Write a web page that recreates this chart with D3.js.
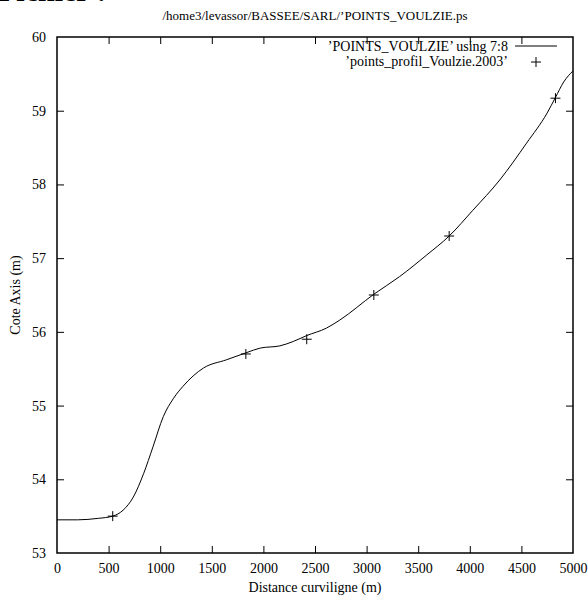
<!DOCTYPE html>
<html>
<head>
<meta charset="utf-8">
<script src="https://cdn.jsdelivr.net/npm/d3@7"></script>
<style>
  html, body { margin: 0; padding: 0; background: #fff; }
  svg { display: block; }
  text { font-family: "Liberation Serif", "DejaVu Serif", serif; fill: #000; }
</style>
</head>
<body>
<script>
// ---- data ----
const curveX = [0, 200, 400, 540, 640, 740, 840, 930, 1030, 1130, 1220, 1420, 1640, 1840, 1970, 2160, 2290, 2420, 2610, 2740, 3070, 3320, 3580, 3800, 4030, 4290, 4550, 4750, 4830, 4910, 5000];
const curveY = [53.45, 53.45, 53.47, 53.5, 53.58, 53.76, 54.08, 54.44, 54.85, 55.1, 55.26, 55.51, 55.62, 55.72, 55.78, 55.81, 55.87, 55.95, 56.05, 56.16, 56.51, 56.75, 57.04, 57.30, 57.65, 58.06, 58.56, 58.97, 59.18, 59.39, 59.54];
const pointsX = [540, 1830, 2420, 3070, 3800, 4830];
const pointsY = [53.5, 55.7, 55.9, 56.5, 57.3, 59.17];
const xTicks = [0, 500, 1000, 1500, 2000, 2500, 3000, 3500, 4000, 4500, 5000];
const yTicks = [53, 54, 55, 56, 57, 58, 59, 60];
const titleText = "/home3/levassor/BASSEE/SARL/\u2019POINTS_VOULZIE.ps";
const xLabel = "Distance curviligne (m)";
const yLabel = "Cote Axis (m)";
const legendLine = "\u2019POINTS_VOULZIE\u2019 using 7:8";
const legendPoints = "\u2019points_profil_Voulzie.2003\u2019";
const headerText = "Fichier :";

// ---- layout ----
const W = 588, H = 596;
const pL = 57, pR = 573, pT = 37, pB = 553;

const svg = d3.select("body").append("svg").attr("width", W).attr("height", H);

const x = d3.scaleLinear().domain([0, 5000]).range([pL, pR]);
const y = d3.scaleLinear().domain([53, 60]).range([pB, pT]);

// clipped header text at the very top (only its bottom edge shows)
svg.append("text").attr("x", -2).attr("y", 1)
  .style("font-size", "30px").style("font-weight", "bold")
  .text(headerText);

// title
svg.append("text").attr("x", (pL + pR) / 2).attr("y", 20)
  .attr("text-anchor", "middle").style("font-size", "13px").text(titleText);

const tickLen = 7;
const gx = svg.append("g").attr("transform", `translate(0,${pB})`)
  .call(d3.axisBottom(x).tickValues(xTicks).tickSize(-tickLen).tickPadding(10).tickFormat(d3.format("d")));
const gxt = svg.append("g").attr("transform", `translate(0,${pT})`)
  .call(d3.axisTop(x).tickValues(xTicks).tickSize(-tickLen).tickFormat(""));
const gy = svg.append("g").attr("transform", `translate(${pL},0)`)
  .call(d3.axisLeft(y).tickValues(yTicks).tickSize(-tickLen).tickPadding(11).tickFormat(d3.format("d")));
const gyr = svg.append("g").attr("transform", `translate(${pR},0)`)
  .call(d3.axisRight(y).tickValues(yTicks).tickSize(-tickLen).tickFormat(""));

[gx, gxt, gy, gyr].forEach(g => {
  g.select(".domain").remove();
  g.selectAll(".tick line").attr("stroke", "#000").attr("stroke-width", 1);
  g.selectAll(".tick text").style("font-size", "14px")
    .style("font-family", "'Liberation Serif', serif").attr("fill", "#000");
});
gx.selectAll(".tick").filter(d => d === 0 || d === 5000).select("line").remove();
gxt.selectAll(".tick").filter(d => d === 0 || d === 5000).select("line").remove();
gy.selectAll(".tick").filter(d => d === 53 || d === 60).select("line").remove();
gyr.selectAll(".tick").filter(d => d === 53 || d === 60).select("line").remove();

// border
svg.append("rect").attr("x", pL).attr("y", pT)
  .attr("width", pR - pL).attr("height", pB - pT)
  .attr("fill", "none").attr("stroke", "#000").attr("stroke-width", 1.5);

// axis labels
svg.append("text").attr("x", (pL + pR) / 2).attr("y", 592)
  .attr("text-anchor", "middle").style("font-size", "14px").text(xLabel);
svg.append("text")
  .attr("transform", `translate(20,${(pT + pB) / 2}) rotate(-90)`)
  .attr("text-anchor", "middle").style("font-size", "14px").text(yLabel);

// curve
const lineData = curveX.map((d, i) => [d, curveY[i]]);
svg.append("path").datum(lineData)
  .attr("fill", "none").attr("stroke", "#000").attr("stroke-width", 1)
  .attr("d", d3.line().x(d => x(d[0])).y(d => y(d[1])).curve(d3.curveMonotoneX));

// points (+ markers)
const ms = 5;
const ptData = pointsX.map((d, i) => [d, pointsY[i]]);
const pg = svg.append("g");
ptData.forEach(p => {
  const cx = x(p[0]), cy = y(p[1]);
  pg.append("path").attr("d", `M${cx - ms},${cy}H${cx + ms}M${cx},${cy - ms}V${cy + ms}`)
    .attr("stroke", "#000").attr("stroke-width", 1).attr("fill", "none");
});

// legend
svg.append("text").attr("x", 508).attr("y", 51).attr("text-anchor", "end")
  .style("font-size", "14px").text(legendLine);
svg.append("line").attr("x1", 515).attr("x2", 557).attr("y1", 46).attr("y2", 46)
  .attr("stroke", "#000").attr("stroke-width", 1);
svg.append("text").attr("x", 508).attr("y", 66).attr("text-anchor", "end")
  .style("font-size", "14px").text(legendPoints);
{
  const cx = 536, cy = 62;
  svg.append("path").attr("d", `M${cx - ms},${cy}H${cx + ms}M${cx},${cy - ms}V${cy + ms}`)
    .attr("stroke", "#000").attr("stroke-width", 1);
}
</script>
</body>
</html>
